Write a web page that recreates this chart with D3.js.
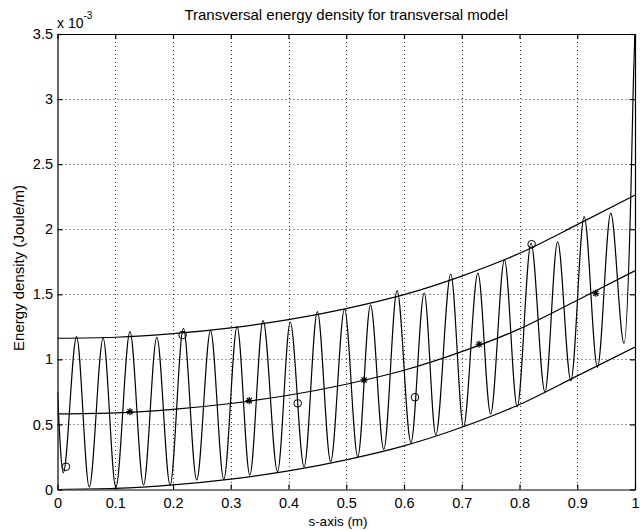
<!DOCTYPE html>
<html><head><meta charset="utf-8">
<script src="https://cdn.jsdelivr.net/npm/d3@7"></script>
<style>
body{margin:0;background:#fff}
svg text{font-family:"Liberation Sans",Arial,Helvetica,sans-serif;fill:#000}
</style>
</head><body>
<svg id="chart" width="644" height="531"></svg>
<script>
// ---- data (energy density in units of 1e-3 Joule/m) ----
const title = "Transversal energy density for transversal model";
const xLabel = "s-axis (m)";
const yLabel = "Energy density (Joule/m)";
const xTicks = [0,0.1,0.2,0.3,0.4,0.5,0.6,0.7,0.8,0.9,1];
const xTickLabels = ["0","0.1","0.2","0.3","0.4","0.5","0.6","0.7","0.8","0.9","1"];
const yTicks = [0,0.5,1,1.5,2,2.5,3,3.5];
const yTickLabels = ["0","0.5","1","1.5","2","2.5","3","3.5"];

const envS     = [0,0.1,0.2,0.3,0.4,0.5,0.6,0.7,0.8,0.9,1.0];
const upperEnv = [1.162,1.170,1.197,1.242,1.305,1.390,1.497,1.640,1.815,2.035,2.262];
const lowerEnv = [0.000,0.008,0.035,0.080,0.143,0.228,0.335,0.478,0.653,0.873,1.095];
const meanEnv  = [0.581,0.589,0.616,0.661,0.724,0.809,0.916,1.059,1.234,1.454,1.681];

// extrema of the oscillating energy density
const oscS = [0,0.010,0.033,0.055,0.079,0.101,0.1255,0.149,0.172,0.195,0.218,0.241,0.265,0.288,0.311,
  0.333,0.356,0.381,0.403,0.427,0.450,0.473,0.497,0.520,0.542,0.565,0.588,0.612,0.635,0.655,0.681,
  0.703,0.728,0.750,0.774,0.796,0.820,0.844,0.866,0.889,0.912,0.935,0.958,0.981,0.993,0.997,1.0];
const oscE = [0.75,0.13,1.175,0.02,1.162,0.017,1.213,0.035,1.17,0.035,1.239,0.073,1.221,0.078,1.251,
  0.111,1.298,0.137,1.285,0.175,1.367,0.214,1.385,0.252,1.418,0.309,1.528,0.36,1.51,0.419,1.656,
  0.483,1.662,0.580,1.764,0.636,1.892,0.749,1.905,0.836,2.097,0.939,2.123,1.124,2.3,3.1,3.55];

const circS = [0.0147,0.2167,0.416,0.619,0.821];
const circE = [0.175,1.187,0.662,0.709,1.885];
const starS = [0.1255,0.332,0.531,0.730,0.932];
const starE = [0.598,0.683,0.842,1.116,1.508];

// ---- layout ----
const L=57.5, R=635, T=34, B=489.5;
const svg = d3.select("#chart");
const x = d3.scaleLinear().domain([0,1]).range([L,R]);
const y = d3.scaleLinear().domain([0,3.5]).range([B,T]);

svg.append("rect").attr("width",644).attr("height",531).attr("fill","#fff");

// grid
const g = svg.append("g").attr("stroke","#000").attr("stroke-width",0.8).attr("stroke-dasharray","1,3");
g.selectAll(".gx").data(xTicks.slice(1,-1)).join("line")
  .attr("x1",d=>Math.round(x(d))+0.5).attr("x2",d=>Math.round(x(d))+0.5).attr("y1",T).attr("y2",B);
g.selectAll(".gy").data(yTicks.slice(1,-1)).join("line")
  .attr("y1",d=>Math.round(y(d))+0.5).attr("y2",d=>Math.round(y(d))+0.5).attr("x1",L).attr("x2",R);

// axes
function style(sel){
  sel.selectAll("path").attr("stroke","#000").attr("stroke-width",1.2);
  sel.selectAll("line").attr("stroke","#000").attr("stroke-width",1.2);
  sel.selectAll("text").attr("font-size","14.5px").attr("fill","#000")
     .attr("font-family","'Liberation Sans',Arial,Helvetica,sans-serif");
}
svg.append("g").attr("transform",`translate(0,${B})`)
  .call(d3.axisBottom(x).tickValues(xTicks).tickFormat((d,i)=>xTickLabels[i]).tickSizeInner(-5).tickSizeOuter(0).tickPadding(8))
  .call(style);
svg.append("g").attr("transform",`translate(0,${T})`)
  .call(d3.axisTop(x).tickValues(xTicks).tickFormat("").tickSizeInner(-5).tickSizeOuter(0))
  .call(style);
svg.append("g").attr("transform",`translate(${L},0)`)
  .call(d3.axisLeft(y).tickValues(yTicks).tickFormat((d,i)=>yTickLabels[i]).tickSizeInner(-5).tickSizeOuter(0).tickPadding(4.5))
  .call(style);
svg.append("g").attr("transform",`translate(${R},0)`)
  .call(d3.axisRight(y).tickValues(yTicks).tickFormat("").tickSizeInner(-5).tickSizeOuter(0))
  .call(style);

// clip
svg.append("clipPath").attr("id","clip").append("rect")
  .attr("x",L).attr("y",T).attr("width",R-L).attr("height",B-T);
const plot = svg.append("g").attr("clip-path","url(#clip)");

const lineEnv = d3.line().x(d=>x(d[0])).y(d=>y(d[1])).curve(d3.curveMonotoneX);
[upperEnv,lowerEnv,meanEnv].forEach(arr=>{
  plot.append("path").datum(envS.map((s,i)=>[s,arr[i]])).attr("d",lineEnv)
    .attr("fill","none").attr("stroke","#000").attr("stroke-width",1.2);
});
plot.append("path").datum(oscS.map((s,i)=>[s,oscE[i]])).attr("d",lineEnv)
  .attr("fill","none").attr("stroke","#000").attr("stroke-width",1.2);

// markers
svg.append("g").selectAll("circle").data(circS.map((s,i)=>[s,circE[i]])).join("circle")
  .attr("cx",d=>x(d[0])).attr("cy",d=>y(d[1])).attr("r",3.8)
  .attr("fill","none").attr("stroke","#000").attr("stroke-width",1);
const r=3.6, q=2.6;
svg.append("g").selectAll("path").data(starS.map((s,i)=>[s,starE[i]])).join("path")
  .attr("transform",d=>`translate(${x(d[0])},${y(d[1])})`)
  .attr("d",`M${-r},0H${r}M0,${-r}V${r}M${-q},${-q}L${q},${q}M${-q},${q}L${q},${-q}`)
  .attr("fill","none").attr("stroke","#000").attr("stroke-width",1.2);

// texts
svg.append("text").attr("x",(L+R)/2).attr("y",20).attr("text-anchor","middle")
  .attr("font-size","15px").text(title);
svg.append("text").attr("x",338).attr("y",526).attr("text-anchor","middle")
  .attr("font-size","13.5px").text(xLabel);
svg.append("text").attr("transform",`translate(24,268) rotate(-90)`).attr("text-anchor","middle")
  .attr("font-size","15px").text(yLabel);
const ex = svg.append("text").attr("x",57).attr("y",28).attr("font-size","14px");
ex.append("tspan").text("x 10");
ex.append("tspan").attr("font-size","10px").attr("dy",-9).text("-3");
</script>
</body></html>
